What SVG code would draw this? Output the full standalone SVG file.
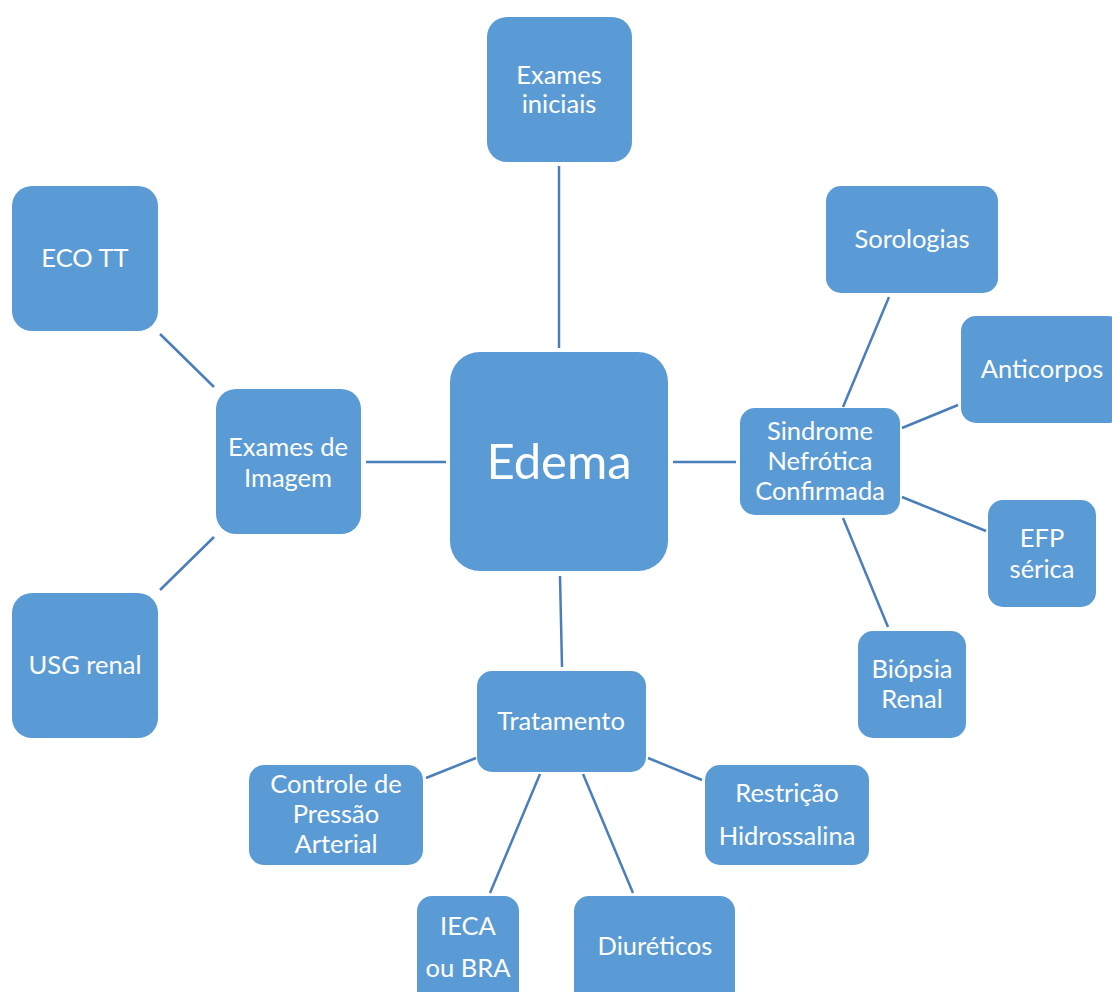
<svg xmlns="http://www.w3.org/2000/svg" width="1112" height="992" viewBox="0 0 1112 992">
<style>
.n{fill:#5B9BD5}
.t{fill:#FFFFFF;font-family:Lato,"Open Sans",sans-serif;font-size:25.5px;text-anchor:middle}
.c line{stroke:#4A7EBB;stroke-width:2.5}
</style>
<rect width="1112" height="992" fill="#FFFFFF"/>
<g class="c" id="connectors">
<line x1="559" y1="166" x2="559" y2="348"/>
<line x1="366" y1="462" x2="446" y2="462"/>
<line x1="673" y1="462" x2="736" y2="462"/>
<line x1="560" y1="576" x2="562" y2="667"/>
<line x1="160" y1="334" x2="214" y2="387"/>
<line x1="160" y1="590" x2="214" y2="537"/>
<line x1="843" y1="407" x2="889" y2="297"/>
<line x1="902" y1="428" x2="958" y2="405"/>
<line x1="902" y1="497" x2="986" y2="531"/>
<line x1="843" y1="518" x2="888" y2="627"/>
<line x1="476" y1="758" x2="426" y2="778"/>
<line x1="648" y1="758" x2="702" y2="780"/>
<line x1="540" y1="774" x2="490" y2="893"/>
<line x1="583" y1="774" x2="633" y2="893"/>
</g>
<g id="edema"><rect class="n" x="450" y="352" width="218" height="219" rx="30"/><text class="t" x="559" y="479" style="font-size:49px">Edema</text></g>
<g id="exames-iniciais"><rect class="n" x="487" y="17" width="145" height="145" rx="20"/><text class="t" x="559" y="84">Exames</text><text class="t" x="559" y="113">iniciais</text></g>
<g id="eco-tt"><rect class="n" x="12" y="186" width="146" height="145" rx="20"/><text class="t" x="85" y="267">ECO TT</text></g>
<g id="exames-imagem"><rect class="n" x="216" y="389" width="145" height="145" rx="20"/><text class="t" x="288" y="456">Exames de</text><text class="t" x="288" y="487">Imagem</text></g>
<g id="usg-renal"><rect class="n" x="12" y="593" width="146" height="145" rx="20"/><text class="t" x="85" y="674">USG renal</text></g>
<g id="sindrome"><rect class="n" x="740" y="408" width="160" height="107" rx="15"/><text class="t" x="820" y="440">Sindrome</text><text class="t" x="820" y="470">Nefrótica</text><text class="t" x="820" y="500">Confirmada</text></g>
<g id="sorologias"><rect class="n" x="826" y="186" width="172" height="107" rx="15"/><text class="t" x="912" y="248">Sorologias</text></g>
<g id="anticorpos"><rect class="n" x="961" y="316" width="162" height="107" rx="15"/><text class="t" x="1042" y="378">Anticorpos</text></g>
<g id="efp"><rect class="n" x="988" y="500" width="108" height="107" rx="15"/><text class="t" x="1042" y="547">EFP</text><text class="t" x="1042" y="578">sérica</text></g>
<g id="biopsia"><rect class="n" x="858" y="631" width="108" height="107" rx="15"/><text class="t" x="912" y="678">Biópsia</text><text class="t" x="912" y="708">Renal</text></g>
<g id="tratamento"><rect class="n" x="477" y="671" width="169" height="101" rx="15"/><text class="t" x="561" y="730">Tratamento</text></g>
<g id="controle"><rect class="n" x="249" y="765" width="174" height="100" rx="15"/><text class="t" x="336" y="793">Controle de</text><text class="t" x="336" y="823">Pressão</text><text class="t" x="336" y="853">Arterial</text></g>
<g id="restricao"><rect class="n" x="705" y="765" width="164" height="100" rx="15"/><text class="t" x="787" y="802">Restrição</text><text class="t" x="787" y="845">Hidrossalina</text></g>
<g id="ieca"><rect class="n" x="417" y="896" width="102" height="110" rx="15"/><text class="t" x="468" y="935">IECA</text><text class="t" x="468" y="977">ou BRA</text></g>
<g id="diureticos"><rect class="n" x="574" y="896" width="161" height="110" rx="15"/><text class="t" x="655" y="955">Diuréticos</text></g>
</svg>
